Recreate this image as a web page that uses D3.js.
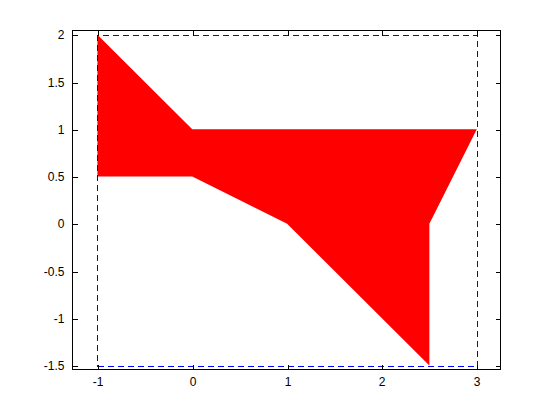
<!DOCTYPE html>
<html><head><meta charset="utf-8">
<script src="https://cdn.jsdelivr.net/npm/d3@7"></script>
<style>body{margin:0;background:#fff}svg{display:block}</style>
</head><body><svg id="c" width="555" height="415"></svg>
<script>
const polyX = [-1, 0, 3, 2.5, 2.5, 1, 0, -1];
const polyY = [2, 1, 1, 0, -1.5, 0, 0.5, 0.5];
const rectX = [-1, 3, 3, -1, -1];
const rectY = [-1.5, -1.5, 2, 2, -1.5];
const xTicks = [-1, 0, 1, 2, 3];
const yTicks = [-1.5, -1, -0.5, 0, 0.5, 1, 1.5, 2];

const svg = d3.select("#c");
const L = 72.5, R = 500.5, T = 30.5, B = 369.5;
const x = d3.scaleLinear().domain([-1.263, 3.25]).range([L, R]);
const y = d3.scaleLinear().domain([-1.542, 2.045]).range([B, T]);
const sx = v => Math.round(x(v)) + 0.5;
const sy = v => Math.round(y(v)) + 0.5;

svg.append("rect").attr("width",555).attr("height",415).attr("fill","#fff");

const line = d3.line().x(d => x(d[0])).y(d => y(d[1]));
svg.append("path")
  .attr("d", line(polyX.map((v,i)=>[v, polyY[i]])) + "Z")
  .attr("fill", "#ff0000").attr("stroke", "none");

const sline = d3.line().x(d => sx(d[0])).y(d => sy(d[1]));
svg.append("path")
  .attr("d", sline(rectX.map((v,i)=>[v, rectY[i]])))
  .attr("fill","none").attr("stroke","#0000ff").attr("stroke-width",1)
  .attr("shape-rendering","crispEdges")
  .attr("stroke-dasharray","6,4");

const font = "Helvetica, Arial, 'Liberation Sans', sans-serif";
const fmt = d => String(d);

const axB = d3.axisBottom(x).tickValues(xTicks).tickSize(-5).tickPadding(8).tickFormat(fmt);
const axT = d3.axisTop(x).tickValues(xTicks).tickSize(-5).tickFormat("");
const axL = d3.axisLeft(y).tickValues(yTicks).tickSize(-5).tickPadding(8).tickFormat(fmt);
const axR = d3.axisRight(y).tickValues(yTicks).tickSize(-5).tickFormat("");

[[axB,`translate(0,${B})`],[axT,`translate(0,${T})`],[axL,`translate(${L},0)`],[axR,`translate(${R},0)`]].forEach(([a,t])=>{
  const g = svg.append("g").attr("transform",t).call(a);
  g.selectAll(".tick").attr("transform", function(){
    const tr = d3.select(this).attr("transform");
    return tr.replace(/translate\(([^,]+),([^)]+)\)/, (m,a1,b1)=>`translate(${Math.round(+a1)},${Math.round(+b1)})`);
  });
  g.selectAll(".tick line").attr("stroke","#000").attr("shape-rendering","crispEdges");
  g.selectAll("text").attr("fill","#000").style("font-family",font).style("font-size","12px");
});
svg.selectAll(".domain").remove();
svg.append("rect").attr("x",L).attr("y",T).attr("width",R-L).attr("height",B-T)
  .attr("fill","none").attr("stroke","#000").attr("stroke-width",1).attr("shape-rendering","crispEdges");
</script></body></html>
